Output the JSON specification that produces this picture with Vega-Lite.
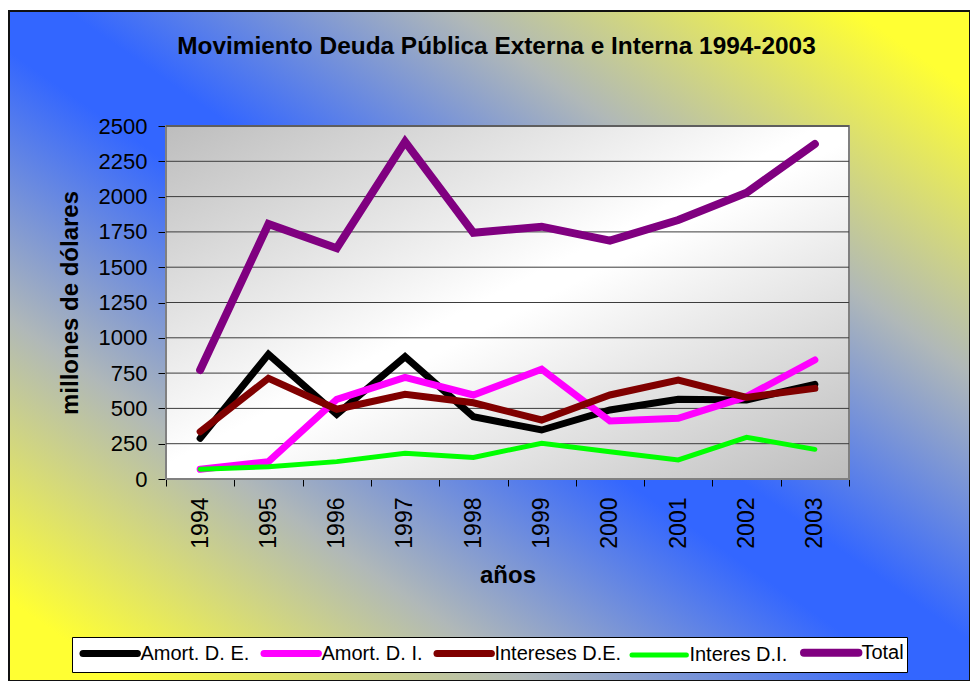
{
  "$schema": "https://vega.github.io/schema/vega-lite/v6.json",
  "width": 961,
  "height": 670,
  "autosize": {"type": "none"},
  "padding": {"left": 9, "top": 11, "right": 0, "bottom": 0},
  "background": "white",
  "title": {
    "text": "Movimiento Deuda Pública Externa e Interna 1994-2003",
    "font": "Liberation Sans",
    "fontSize": 24.4,
    "fontWeight": "bold",
    "color": "black",
    "anchor": "middle",
    "baseline": "alphabetic",
    "offset": -67,
    "dx": 7
  },
  "config": {
    "font": "Liberation Sans",
    "view": {
      "fill": {
        "gradient": "linear",
        "x1": 0, "y1": 1, "x2": 1, "y2": 0,
        "stops": [
          {"offset": 0, "color": "#ffff33"},
          {"offset": 0.06, "color": "#ffff33"},
          {"offset": 0.27, "color": "#b0b8b8"},
          {"offset": 0.47, "color": "#3366ff"},
          {"offset": 0.53, "color": "#3366ff"},
          {"offset": 0.73, "color": "#b0b8b8"},
          {"offset": 0.94, "color": "#ffff33"},
          {"offset": 1, "color": "#ffff33"}
        ]
      },
      "stroke": "#111111",
      "strokeWidth": 2
    },
    "axis": {
      "labelFont": "Liberation Sans",
      "titleFont": "Liberation Sans",
      "labelColor": "black",
      "titleColor": "black",
      "domainColor": "black",
      "tickColor": "black",
      "zindex": 1,
      "grid": false,
      "labelFlush": false,
      "labelOverlap": false
    }
  },
  "layer": [
    {
      "data": {"values": [{}]},
      "mark": {
        "type": "rect",
        "fill": {
          "gradient": "linear",
          "x1": 0, "y1": 0, "x2": 1, "y2": 1,
          "stops": [
            {"offset": 0, "color": "#bdbdbd"},
            {"offset": 0.48, "color": "#ffffff"},
            {"offset": 0.52, "color": "#ffffff"},
            {"offset": 1, "color": "#bdbdbd"}
          ]
        },
        "stroke": "#808080",
        "strokeWidth": 2
      },
      "encoding": {
        "x": {"datum": 1993.5, "type": "quantitative"},
        "x2": {"datum": 2003.5},
        "y": {"datum": 0, "type": "quantitative"},
        "y2": {"datum": 2500}
      }
    },
    {
      "data": {"values": [{"g": 250}, {"g": 500}, {"g": 750}, {"g": 1000}, {"g": 1250}, {"g": 1500}, {"g": 1750}, {"g": 2000}, {"g": 2250}, {"g": 2500}]},
      "mark": {"type": "rule", "color": "#3c3c3c", "strokeWidth": 1},
      "encoding": {
        "y": {"field": "g", "type": "quantitative"},
        "x": {"datum": 1993.5, "type": "quantitative"},
        "x2": {"datum": 2003.5}
      }
    },
    {
      "data": {
        "values": [
          {"anio": 1994, "serie": "Amort. D. E.", "valor": 288},
          {"anio": 1995, "serie": "Amort. D. E.", "valor": 883},
          {"anio": 1996, "serie": "Amort. D. E.", "valor": 458},
          {"anio": 1997, "serie": "Amort. D. E.", "valor": 866},
          {"anio": 1998, "serie": "Amort. D. E.", "valor": 441},
          {"anio": 1999, "serie": "Amort. D. E.", "valor": 347},
          {"anio": 2000, "serie": "Amort. D. E.", "valor": 489},
          {"anio": 2001, "serie": "Amort. D. E.", "valor": 564},
          {"anio": 2002, "serie": "Amort. D. E.", "valor": 560},
          {"anio": 2003, "serie": "Amort. D. E.", "valor": 670},
          {"anio": 1994, "serie": "Amort. D. I.", "valor": 69},
          {"anio": 1995, "serie": "Amort. D. I.", "valor": 123},
          {"anio": 1996, "serie": "Amort. D. I.", "valor": 564},
          {"anio": 1997, "serie": "Amort. D. I.", "valor": 720},
          {"anio": 1998, "serie": "Amort. D. I.", "valor": 595},
          {"anio": 1999, "serie": "Amort. D. I.", "valor": 777},
          {"anio": 2000, "serie": "Amort. D. I.", "valor": 411},
          {"anio": 2001, "serie": "Amort. D. I.", "valor": 430},
          {"anio": 2002, "serie": "Amort. D. I.", "valor": 583},
          {"anio": 2003, "serie": "Amort. D. I.", "valor": 843},
          {"anio": 1994, "serie": "Intereses D.E.", "valor": 335},
          {"anio": 1995, "serie": "Intereses D.E.", "valor": 713},
          {"anio": 1996, "serie": "Intereses D.E.", "valor": 494},
          {"anio": 1997, "serie": "Intereses D.E.", "valor": 600},
          {"anio": 1998, "serie": "Intereses D.E.", "valor": 540},
          {"anio": 1999, "serie": "Intereses D.E.", "valor": 418},
          {"anio": 2000, "serie": "Intereses D.E.", "valor": 595},
          {"anio": 2001, "serie": "Intereses D.E.", "valor": 701},
          {"anio": 2002, "serie": "Intereses D.E.", "valor": 578},
          {"anio": 2003, "serie": "Intereses D.E.", "valor": 642},
          {"anio": 1994, "serie": "Interes D.I.", "valor": 69},
          {"anio": 1995, "serie": "Interes D.I.", "valor": 87},
          {"anio": 1996, "serie": "Interes D.I.", "valor": 123},
          {"anio": 1997, "serie": "Interes D.I.", "valor": 182},
          {"anio": 1998, "serie": "Interes D.I.", "valor": 153},
          {"anio": 1999, "serie": "Interes D.I.", "valor": 253},
          {"anio": 2000, "serie": "Interes D.I.", "valor": 193},
          {"anio": 2001, "serie": "Interes D.I.", "valor": 135},
          {"anio": 2002, "serie": "Interes D.I.", "valor": 295},
          {"anio": 2003, "serie": "Interes D.I.", "valor": 210},
          {"anio": 1994, "serie": "Total", "valor": 772},
          {"anio": 1995, "serie": "Total", "valor": 1806},
          {"anio": 1996, "serie": "Total", "valor": 1634},
          {"anio": 1997, "serie": "Total", "valor": 2389},
          {"anio": 1998, "serie": "Total", "valor": 1744},
          {"anio": 1999, "serie": "Total", "valor": 1787},
          {"anio": 2000, "serie": "Total", "valor": 1688},
          {"anio": 2001, "serie": "Total", "valor": 1834},
          {"anio": 2002, "serie": "Total", "valor": 2028},
          {"anio": 2003, "serie": "Total", "valor": 2372}
        ]
      },
      "mark": {"type": "line", "strokeJoin": "miter", "strokeCap": "round"},
      "encoding": {
        "x": {
          "field": "anio",
          "type": "quantitative",
          "scale": {"domain": [1993.5, 2003.5], "range": [157, 840], "nice": false, "zero": false},
          "axis": {
            "values": [1993.5, 1994.5, 1995.5, 1996.5, 1997.5, 1998.5, 1999.5, 2000.5, 2001.5, 2002.5, 2003.5],
            "labelExpr": "datum.value < 2003 ? format(datum.value + 0.5, 'd') : ''",
            "labelAngle": -90,
            "labelOffset": 34,
            "labelFontSize": 23,
            "labelPadding": 11,
            "tickSize": 7,
            "title": "años",
            "titleFontSize": 24,
            "titleFontWeight": "bold",
            "titlePadding": 15,
            "offset": -202
          }
        },
        "y": {
          "field": "valor",
          "type": "quantitative",
          "scale": {"domain": [0, 2500], "range": [468, 115], "nice": false},
          "axis": {
            "values": [0, 250, 500, 750, 1000, 1250, 1500, 1750, 2000, 2250, 2500],
            "format": "d",
            "labelFontSize": 22,
            "labelPadding": 11,
            "tickSize": 8,
            "title": "millones de dólares",
            "titleFontSize": 24,
            "titleFontWeight": "bold",
            "titlePadding": 16,
            "offset": -157
          }
        },
        "color": {
          "field": "serie",
          "type": "nominal",
          "scale": {
            "domain": ["Amort. D. E.", "Amort. D. I.", "Intereses D.E.", "Interes D.I.", "Total"],
            "range": ["#000000", "#ff00ff", "#800000", "#00ff00", "#800080"]
          },
          "legend": {
            "orient": "none",
            "legendX": 63,
            "legendY": 626,
            "direction": "horizontal",
            "columns": 5,
            "title": null,
            "symbolType": "M-3.2,0H3.2",
            "symbolSize": 289,
            "symbolOffset": 22.7,
            "labelOffset": 17.7,
            "labelFontSize": 20,
            "labelFont": "Liberation Sans",
            "labelColor": "black",
            "labelLimit": 300,
            "columnPadding": 0,
            "padding": 3,
            "fillColor": "white",
            "strokeColor": "black",
            "encode": {"symbols": {"update": {"strokeCap": {"value": "round"}}}}
          }
        },
        "strokeWidth": {
          "field": "serie",
          "type": "nominal",
          "scale": {
            "type": "ordinal",
            "domain": ["Amort. D. E.", "Amort. D. I.", "Intereses D.E.", "Interes D.I.", "Total"],
            "range": [7, 7, 7, 5, 8]
          }
        }
      }
    }
  ]
}
